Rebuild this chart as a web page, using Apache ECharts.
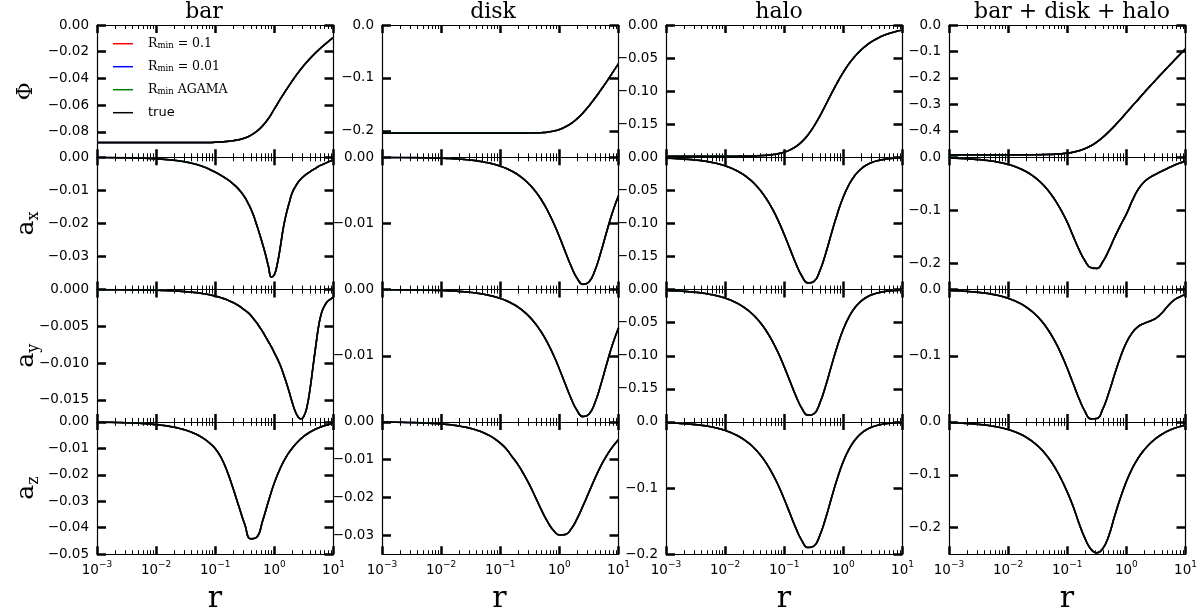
<!DOCTYPE html>
<html><head><meta charset="utf-8">
<script src="https://cdn.jsdelivr.net/npm/echarts@6/dist/echarts.min.js"></script>
<style>html,body{margin:0;padding:0;background:#fff}#c{width:1200px;height:613px}</style>
</head><body><div id="c"></div>
<script>
// ---------- data ----------
const colTitles = ['bar', 'disk', 'halo', 'bar + disk + halo'];
const rowNames = ['Φ', 'a{s|x}', 'a{s|y}', 'a{s|z}'];
const seriesNames = ['R_min = 0.1', 'R_min = 0.01', 'R_min AGAMA', 'true'];
const seriesColors = ['#ff0000', '#0000ff', '#008000', '#000000'];

const rGrid = [0.001,0.0012589,0.0015849,0.0019953,0.0025119,0.0031623,0.0039811,0.0050119,0.0063096,0.0079433,
  0.01,0.012589,0.015849,0.019953,0.025119,0.031623,0.039811,0.050119,0.063096,0.079433,
  0.1,0.12589,0.15849,0.19953,0.25119,0.31623,0.39811,0.50119,0.63096,0.79433,
  1,1.2589,1.5849,1.9953,2.5119,3.1623,3.9811,5.0119,6.3096,7.9433,10];
const rFine = [0.001,0.0012589,0.0015849,0.0019953,0.0025119,0.0031623,0.0039811,0.0050119,0.0063096,0.0079433,
  0.01,0.012589,0.015849,0.019953,0.025119,0.031623,0.039811,0.050119,0.063096,0.079433,
  0.1,0.12589,0.15849,0.19953,0.25119,0.31623,
  0.35481,0.39811,0.44668,0.50119,0.56234,0.63096,0.70795,0.79433,0.89125,1,
  1.122,1.2589,1.4125,1.5849,1.7783,1.9953,2.2387,2.5119,2.8184,3.1623,
  3.5481,3.9811,4.4668,5.0119,5.6234,6.3096,7.0795,7.9433,8.9125,10];

const barPhi = [-0.088,-0.088,-0.088,-0.088,-0.088,-0.088,-0.088,-0.088,-0.088,-0.088,
  -0.088,-0.088,-0.088,-0.088,-0.088,-0.088,-0.088,-0.088,-0.088,-0.088,
  -0.0877,-0.0875,-0.0871,-0.0866,-0.0858,-0.0846,-0.0826,-0.0796,-0.0755,-0.0700,
  -0.0628,-0.0555,-0.0486,-0.0420,-0.0358,-0.0302,-0.0252,-0.0207,-0.0166,-0.0128,-0.0093];
const diskPhi = [-0.2043,-0.2043,-0.2043,-0.2043,-0.2043,-0.2043,-0.2043,-0.2043,-0.2043,-0.2043,
  -0.2043,-0.2043,-0.2043,-0.2043,-0.2043,-0.2043,-0.2043,-0.2043,-0.2043,-0.2043,
  -0.2043,-0.2043,-0.2043,-0.2043,-0.2042,-0.2041,-0.2040,-0.2035,-0.2025,-0.2005,
  -0.1975,-0.1925,-0.1860,-0.1770,-0.1660,-0.1530,-0.1385,-0.1230,-0.1070,-0.0900,-0.0730];
const haloPhi = [-0.1986,-0.1986,-0.1986,-0.1986,-0.1986,-0.1986,-0.1986,-0.1986,-0.1986,-0.1985,
  -0.1985,-0.1985,-0.1984,-0.1983,-0.1982,-0.1979,-0.1975,-0.1969,-0.1960,-0.1945,
  -0.1922,-0.1888,-0.1836,-0.1763,-0.1663,-0.1534,-0.1380,-0.1209,-0.1034,-0.0866,
  -0.0713,-0.0580,-0.0468,-0.0376,-0.0301,-0.0240,-0.0191,-0.0152,-0.0121,-0.0096,-0.0076];
const allPhi = [-0.4909,-0.4909,-0.4909,-0.4909,-0.4909,-0.4909,-0.4909,-0.4909,-0.4909,-0.4909,
  -0.4908,-0.4908,-0.4907,-0.4906,-0.4905,-0.4902,-0.4898,-0.4892,-0.4883,-0.4868,
  -0.4842,-0.4806,-0.4750,-0.4672,-0.4564,-0.4423,-0.4246,-0.4040,-0.3814,-0.3571,
  -0.3316,-0.3060,-0.2813,-0.2556,-0.2311,-0.2070,-0.1831,-0.1595,-0.1361,-0.1126,-0.0899];

const barAx = [-0.00005,-0.00006,-0.00007,-0.00009,-0.00011,-0.00014,-0.00018,-0.00023,-0.00029,-0.00036,
  -0.00045,-0.00057,-0.00072,-0.0009,-0.00114,-0.00143,-0.0018,-0.00226,-0.00285,-0.0036,
  -0.0045,-0.0055,-0.0066,-0.0080,-0.0097,-0.0121,
  -0.0137,-0.0155,-0.0177,-0.0204,-0.0232,-0.0262,-0.0294,-0.0330,-0.0362,-0.0355,
  -0.0322,-0.0272,-0.0215,-0.0172,-0.0138,-0.0108,-0.0090,-0.0076,-0.0065,-0.0057,
  -0.0050,-0.0044,-0.0038,-0.0033,-0.0027,-0.0023,-0.0019,-0.0015,-0.0011,-0.0008];
const barAy = [-0.00001,-0.00001,-0.00001,-0.00002,-0.00002,-0.00003,-0.00004,-0.00004,-0.00006,-0.00007,
  -0.00009,-0.00011,-0.00014,-0.00018,-0.00022,-0.00028,-0.00035,-0.00044,-0.00056,-0.0007,
  -0.00088,-0.00111,-0.00139,-0.00175,-0.0022,-0.0028,
  -0.0031,-0.0035,-0.0040,-0.0045,-0.0051,-0.0057,-0.0064,-0.0071,-0.0078,-0.0086,
  -0.0094,-0.0103,-0.0114,-0.0126,-0.0139,-0.0153,-0.0165,-0.0173,-0.0176,-0.0172,
  -0.0160,-0.0137,-0.0107,-0.0077,-0.0049,-0.0031,-0.0022,-0.0016,-0.0013,-0.0010];
const barAz = [-0.0001,-0.00013,-0.00016,-0.0002,-0.00025,-0.00032,-0.0004,-0.0005,-0.00063,-0.0008,
  -0.001,-0.00126,-0.00158,-0.002,-0.0025,-0.0031,-0.0039,-0.0049,-0.0062,-0.0079,
  -0.0101,-0.0135,-0.0186,-0.0250,-0.0320,-0.0388,-0.0442,-0.0436,-0.0375,-0.0300,
  -0.0230,-0.0175,-0.0132,-0.0100,-0.0074,-0.0054,-0.0039,-0.0027,-0.0018,-0.0011,-0.0006];
const diskAR = [-0.00001,-0.00002,-0.00002,-0.00003,-0.00003,-0.00004,-0.00005,-0.00007,-0.00008,-0.00011,
  -0.00013,-0.00017,-0.00021,-0.00027,-0.00033,-0.00042,-0.00053,-0.00067,-0.00084,-0.00106,
  -0.00133,-0.00167,-0.00211,-0.00264,-0.00332,-0.00416,-0.00521,-0.00649,-0.00805,-0.00989,
  -0.0120,-0.01427,-0.01649,-0.01829,-0.0192,-0.01885,-0.01714,-0.0144,-0.01126,-0.00827,-0.0058];
const diskAz = [-0.00005,-0.00007,-0.00008,-0.00011,-0.00013,-0.00017,-0.00021,-0.00027,-0.00034,-0.00043,
  -0.00054,-0.00068,-0.00086,-0.00108,-0.00136,-0.00172,-0.00218,-0.00275,-0.00348,-0.0044,
  -0.0056,-0.0071,-0.0092,-0.0113,-0.0139,-0.0168,-0.0201,-0.0234,-0.0264,-0.0287,
  -0.0299,-0.0298,-0.0283,-0.0256,-0.0222,-0.0186,-0.0150,-0.0117,-0.0089,-0.0066,-0.0047];
const haloA = [-0.00129,-0.00162,-0.00204,-0.00257,-0.00324,-0.00407,-0.00513,-0.00645,-0.00812,-0.01021,
  -0.01286,-0.0162,-0.02037,-0.02559,-0.03215,-0.04032,-0.05047,-0.06296,-0.07812,-0.0961,
  -0.1168,-0.1392,-0.1614,-0.1798,-0.1899,-0.1878,-0.1720,-0.1457,-0.1146,-0.0848,
  -0.0596,-0.0405,-0.0268,-0.0175,-0.0112,-0.0072,-0.0046,-0.0029,-0.0018,-0.0012,-0.0007];
const allAx = [-0.00135,-0.0017,-0.00213,-0.00269,-0.00338,-0.00425,-0.00536,-0.00675,-0.00849,-0.01068,
  -0.01344,-0.01694,-0.0213,-0.02676,-0.03362,-0.04217,-0.0528,-0.06589,-0.08181,-0.1008,
  -0.1226,-0.1490,-0.1745,-0.1955,-0.2085,-0.2100,-0.1975,-0.1765,-0.1515,-0.1285,
  -0.1074,-0.0820,-0.0605,-0.0466,-0.0380,-0.0318,-0.0261,-0.0206,-0.0154,-0.0110,-0.0073];
const allAy = [-0.00131,-0.00165,-0.00207,-0.00262,-0.00329,-0.00414,-0.00522,-0.00656,-0.00826,-0.01039,
  -0.01308,-0.01648,-0.02072,-0.02604,-0.0327,-0.04102,-0.05135,-0.06407,-0.07952,-0.09786,
  -0.119,-0.142,-0.1649,-0.1842,-0.1954,-0.1948,-0.1807,-0.1568,-0.1285,-0.1018,
  -0.0802,-0.0651,-0.0558,-0.0511,-0.0477,-0.0433,-0.0354,-0.0250,-0.0162,-0.0111,-0.0075];
const allAz = [-0.00144,-0.00182,-0.00232,-0.00288,-0.00362,-0.00456,-0.00574,-0.00722,-0.00909,-0.01144,
  -0.0144,-0.01813,-0.02281,-0.02867,-0.03601,-0.04522,-0.05655,-0.07056,-0.0877,-0.1084,
  -0.1325,-0.1598,-0.1920,-0.2200,-0.2405,-0.2475,-0.2395,-0.2160,-0.1785,-0.1435,
  -0.1125,-0.0878,-0.0683,-0.0531,-0.0408,-0.0312,-0.0235,-0.0173,-0.0125,-0.0089,-0.0060];

// axis extents and tick labels
const yMin = [[-0.099,-0.25,-0.2,-0.5],[-0.04,-0.02,-0.2,-0.25],[-0.018,-0.02,-0.2,-0.2],[-0.05,-0.035,-0.2,-0.25]];
const yTicks = [
  [[0,-0.02,-0.04,-0.06,-0.08],[0,-0.1,-0.2],[0,-0.05,-0.1,-0.15],[0,-0.1,-0.2,-0.3,-0.4]],
  [[0,-0.01,-0.02,-0.03],[0,-0.01],[0,-0.05,-0.1,-0.15],[0,-0.1,-0.2]],
  [[0,-0.005,-0.01,-0.015],[0,-0.01],[0,-0.05,-0.1,-0.15],[0,-0.1]],
  [[0,-0.01,-0.02,-0.03,-0.04,-0.05],[0,-0.01,-0.02,-0.03],[0,-0.1,-0.2],[0,-0.1,-0.2]]];
const yDec = [[2,1,2,1],[2,2,2,1],[3,2,2,1],[2,2,1,1]];
const xMinorR = [0.002,0.003,0.004,0.005,0.006,0.007,0.008,0.009,
  0.02,0.03,0.04,0.05,0.06,0.07,0.08,0.09,
  0.2,0.3,0.4,0.5,0.6,0.7,0.8,0.9,
  2,3,4,5,6,7,8,9];

const panels = [
  [{r:rGrid,v:barPhi},{r:rGrid,v:diskPhi},{r:rGrid,v:haloPhi},{r:rGrid,v:allPhi}],
  [{r:rFine,v:barAx},{r:rGrid,v:diskAR},{r:rGrid,v:haloA},{r:rGrid,v:allAx}],
  [{r:rFine,v:barAy},{r:rGrid,v:diskAR},{r:rGrid,v:haloA},{r:rGrid,v:allAy}],
  [{r:rGrid,v:barAz},{r:rGrid,v:diskAz},{r:rGrid,v:haloA},{r:rGrid,v:allAz}]];

// ---------- layout ----------
const L = [97, 382, 666, 949], W = 236.5, T0 = 25, H = 132.3;
const titleX = [204, 493, 779, 1072];
const colCX = [215, 499.5, 784, 1067];

const minorLog = xMinorR.map(v => Math.log10(v));
const fmtY = (v, d) => v === 0 ? (0).toFixed(d) : '\u2212' + Math.abs(v).toFixed(d);
const fmtX = v => '{b|10}{p|' + (v < 0 ? '\u2212' : '') + Math.abs(v) + '}';

const grid = [], xAxis = [], yAxis = [], series = [], graphic = [];
const black = '#000';
for (let r = 0; r < 4; r++) {
  for (let c = 0; c < 4; c++) {
    const g = r * 4 + c;
    grid.push({left: L[c], top: T0 + r * H, width: W, height: H});
    xAxis.push({gridIndex: g, type: 'log', logBase: 10, min: 0.001, max: 10, show: false});
    const major = (pos, withLabels) => ({
      gridIndex: g, type: 'value', min: -3, max: 1, interval: 1, position: pos,
      splitLine: {show: false},
      axisLine: {show: true, onZero: false, lineStyle: {color: black, width: 1.2}},
      axisTick: {show: true, inside: true, length: 8, lineStyle: {color: black, width: 2.5}},
      axisLabel: withLabels ? {
        show: true, margin: 6, formatter: fmtX,
        rich: {
          b: {fontFamily: 'DejaVu Sans', fontSize: 13.5, lineHeight: 20, color: black},
          p: {fontFamily: 'DejaVu Sans', fontSize: 9, lineHeight: 10, verticalAlign: 'top', color: black}
        }
      } : {show: false}
    });
    const minor = pos => ({
      gridIndex: g, type: 'value', min: -3, max: 1, position: pos,
      splitLine: {show: false}, axisLabel: {show: false},
      axisLine: {show: false, onZero: false},
      axisTick: {show: true, inside: true, length: 4, customValues: minorLog, lineStyle: {color: black, width: 1}}
    });
    xAxis.push(major('bottom', r === 3));
    xAxis.push(minor('bottom'));
    xAxis.push(major('top', false));
    xAxis.push(minor('top'));
    const ticks = yTicks[r][c], dec = yDec[r][c];
    const yax = (pos, withLabels) => ({
      gridIndex: g, type: 'value', min: yMin[r][c], max: 0, position: pos,
      splitLine: {show: false},
      axisLine: {show: true, onZero: false, lineStyle: {color: black, width: 1.2}},
      axisTick: {show: true, inside: true, length: 9, customValues: ticks, lineStyle: {color: black, width: 2.5}},
      axisLabel: withLabels ? {
        show: true, margin: 8, customValues: ticks, formatter: v => fmtY(v, dec),
        fontFamily: 'DejaVu Sans', fontSize: 13.5, color: black
      } : {show: false}
    });
    yAxis.push(yax('left', true));
    yAxis.push(yax('right', false));
    const p = panels[r][c];
    const data = p.r.map((x, i) => [x, p.v[i]]);
    seriesNames.forEach((name, k) => {
      series.push({
        type: 'line', name, xAxisIndex: g * 5, yAxisIndex: g * 2, data,
        symbol: 'none', smooth: 0.5, silent: true,
        lineStyle: {color: seriesColors[k], width: k === 3 ? 1.7 : 1.5},
        itemStyle: {color: seriesColors[k]}, z: 2 + k
      });
    });
  }
}

colTitles.forEach((t, c) => graphic.push({
  type: 'text', x: titleX[c], y: 12, silent: true,
  style: {text: t, fontFamily: 'DejaVu Serif', fontSize: 22, fill: black, align: 'center', verticalAlign: 'middle'}
}));
rowNames.forEach((t, r) => graphic.push({
  type: 'text', x: 26, y: T0 + r * H + H / 2, rotation: Math.PI / 2, silent: true,
  style: {
    text: t, fontFamily: 'DejaVu Serif', fontSize: r === 0 ? 22 : 25, lineHeight: 32, fill: black,
    align: 'center', verticalAlign: 'middle',
    rich: {s: {fontFamily: 'DejaVu Serif', fontSize: 16, lineHeight: 16, verticalAlign: 'bottom', fill: black}}
  }
}));
colCX.forEach(cx => graphic.push({
  type: 'text', x: cx, y: 599, silent: true,
  style: {text: 'r', fontFamily: 'DejaVu Serif', fontSize: 30, fill: black, align: 'center', verticalAlign: 'middle'}
}));

const legendText = {
  'R_min = 0.1': '{R|R}{s|min}{R| = 0.1}',
  'R_min = 0.01': '{R|R}{s|min}{R| = 0.01}',
  'R_min AGAMA': '{R|R}{s|min}{R| AGAMA}',
  'true': '{t|true}'
};

const chart = echarts.init(document.getElementById('c'), null, {renderer: 'canvas'});
chart.setOption({
  animation: false,
  backgroundColor: '#fff',
  grid, xAxis, yAxis, series, graphic,
  legend: {
    data: seriesNames, orient: 'vertical', left: 113, top: 36.7, padding: 0,
    itemWidth: 20, itemHeight: 1.5, itemGap: 9, icon: 'rect', selectedMode: false,
    formatter: n => legendText[n],
    textStyle: {
      padding: [0, 0, 0, 10], lineHeight: 14,
      rich: {
        R: {fontFamily: 'DejaVu Serif', fontSize: 12.5, lineHeight: 14, color: black},
        s: {fontFamily: 'DejaVu Serif', fontSize: 8.5, lineHeight: 9, verticalAlign: 'bottom', color: black},
        t: {fontFamily: 'DejaVu Sans', fontSize: 13, lineHeight: 14, color: black}
      }
    }
  }
});
</script></body></html>
